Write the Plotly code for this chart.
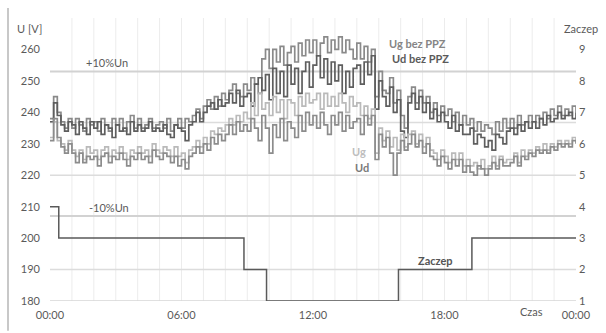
import plotly.graph_objects as go

# time in hours, 10-minute resolution
hours = [i / 6 for i in range(145)]

ug_bez = [
    238, 245, 240, 237, 235, 238,
    235, 238, 236, 234, 238, 236,
    237, 234, 238, 236, 234, 238,
    236, 238, 234, 237, 239, 235,
    238, 235, 236, 238, 235, 236,
    237, 235, 238, 234, 236, 238,
    235, 238, 237, 239, 241, 238,
    242, 244, 241, 245, 242, 246,
    244, 247, 249, 246, 245, 249,
    247, 251, 249, 246, 257, 260,
    254, 260, 256, 261, 255, 259,
    261, 256, 262, 258, 263, 259,
    263, 258, 262, 264, 259, 263,
    260, 264, 259, 263, 260, 257,
    262, 257, 261, 256, 260, 245,
    253, 247, 246, 251, 243, 247,
    239, 235, 245, 248, 243, 247,
    243, 245, 240, 243, 239, 242,
    239, 241, 237, 240, 236, 239,
    236, 238, 234, 237, 234, 236,
    235, 233, 237, 234, 238, 235,
    238, 235, 239, 236, 237, 239,
    237, 239, 238, 240, 238, 241,
    239, 242, 239, 241, 239, 242,
    240,
]

ud_bez = [
    237, 243, 239, 236, 234, 237,
    236, 233, 237, 235, 233, 237,
    235, 237, 233, 236, 235, 232,
    236, 234, 235, 233, 237, 234,
    236, 234, 235, 237, 234, 235,
    234, 236, 233, 232, 236, 235,
    234, 231, 236, 237, 240, 237,
    240, 242, 243, 241, 244, 242,
    243, 246, 243, 247, 242, 245,
    246, 242, 249, 251, 247, 252,
    244, 254, 246, 253, 245, 255,
    249, 254, 246, 253, 256, 248,
    255, 258, 251, 257, 249, 256,
    250, 255, 246, 253, 248, 254,
    255, 249, 256, 252, 258, 241,
    250, 245, 242, 248, 240, 244,
    234, 232, 243, 246, 241, 245,
    240, 243, 238, 241, 237, 240,
    237, 235, 239, 234, 236, 233,
    233, 235, 230, 233, 232, 229,
    231, 228, 233, 232, 230, 234,
    235, 233, 236, 234, 237, 235,
    237, 235, 238, 236, 239, 237,
    238, 240, 238, 239, 240, 238,
    240,
]

ug = [
    232, 237, 231, 230, 228, 231,
    228, 226, 228, 225, 229, 227,
    228, 225, 228, 229, 226, 228,
    227, 229, 227, 225, 228, 227,
    229, 227, 228, 226, 230, 228,
    227, 229, 228, 226, 229, 226,
    227, 224, 228, 229, 231, 229,
    232, 230, 234, 233, 235, 234,
    236, 238, 236, 239, 237, 240,
    238, 243, 239, 246, 241, 243,
    239, 245, 240, 244, 238, 244,
    243, 239, 245, 242, 246, 243,
    244, 246, 241, 246, 242, 245,
    242, 246, 243, 240, 245, 242,
    243, 239, 242, 238, 241, 227,
    235, 231, 234, 229, 232, 228,
    233, 229, 233, 234, 230, 233,
    229, 232, 228, 227, 225, 228,
    226, 224, 227, 225, 227, 223,
    225, 223, 224, 222, 225, 222,
    223, 226, 223, 226, 224, 225,
    225, 227, 224, 228, 226, 228,
    227, 229, 228, 230, 228, 230,
    229, 231, 230, 231, 230, 232,
    231,
]

ud = [
    231, 238, 232, 229, 227, 230,
    227, 224, 227, 224, 226, 225,
    226, 223, 226, 227, 224, 226,
    225, 227, 225, 223, 226, 225,
    227, 225, 226, 224, 228, 226,
    225, 227, 226, 224, 226, 223,
    225, 222, 226, 227, 229, 227,
    230, 228, 232, 230, 233, 231,
    233, 236, 233, 237, 234, 236,
    234, 238, 235, 231, 239, 235,
    227, 236, 232, 238, 231, 237,
    235, 232, 239, 234, 240, 236,
    239, 235, 240, 236, 233, 239,
    236, 240, 234, 239, 235, 237,
    238, 233, 239, 236, 239, 225,
    233, 229, 232, 227, 220, 227,
    231, 228, 230, 233, 229, 231,
    227, 230, 226, 225, 223, 226,
    224, 222, 225, 223, 225, 221,
    223, 221, 220, 223, 222, 220,
    222, 224, 222, 225, 223, 223,
    224, 226, 223, 226, 225, 227,
    226, 228, 227, 228, 227, 229,
    228, 230, 229, 230, 229, 231,
    230,
]

tap_times = [0, 0.4, 8.85, 9.88, 15.9, 19.25, 24]
tap_values = [4, 3, 2, 1, 2, 3, 3]

limit_levels = [253, 207]
limit_labels = ["+10%Un", "-10%Un"]
ref_levels = [236.8, 220, 190]

x_tickvals = [0, 6, 12, 18, 24]
x_ticktext = ["00:00", "06:00", "12:00", "18:00", "00:00"]
y_ticks = [180, 190, 200, 210, 220, 230, 240, 250, 260]
y2_ticks = [1, 2, 3, 4, 5, 6, 7, 8, 9]

FONT = "Lato"
TXT = "#5a5a5a"

fig = go.Figure()

# vertical hourly gridlines
for h in range(1, 24):
    fig.add_shape(type="line", xref="x", yref="paper", x0=h, x1=h, y0=0, y1=1,
                  line=dict(color="#ececec", width=1), layer="below")
for lv in ref_levels:
    fig.add_shape(type="line", xref="paper", yref="y", x0=0, x1=1, y0=lv, y1=lv,
                  line=dict(color="#dcdcdc", width=1.5), layer="below")
for lv in limit_levels:
    fig.add_shape(type="line", xref="paper", yref="y", x0=0, x1=1, y0=lv, y1=lv,
                  line=dict(color="#d2d2d2", width=2), layer="below")
fig.add_shape(type="line", xref="paper", yref="y", x0=0, x1=1, y0=180, y1=180,
              line=dict(color="#d6d6d6", width=1.5), layer="below")

series = [
    ("Ug bez PPZ", ug_bez, "#8a8a8a"),
    ("Ud bez PPZ", ud_bez, "#5e5e5e"),
    ("Ug", ug, "#bababa"),
    ("Ud", ud, "#8c8c8c"),
]
for name, vals, col in series:
    fig.add_trace(go.Scatter(x=hours, y=vals, mode="lines", name=name,
                             line=dict(color=col, width=1.7, shape="hv")))

fig.add_trace(go.Scatter(x=tap_times, y=tap_values, mode="lines", name="Zaczep",
                         yaxis="y2", line=dict(color="#5a5a5a", width=1.5, shape="hv")))

# left frame line
fig.add_shape(type="line", xref="paper", yref="paper", x0=-42 / 526, x1=-42 / 526,
              y0=-30 / 285, y1=295 / 285, line=dict(color="#c8c8c8", width=2))

anns = [
    dict(x=2.6, y=256, text=limit_labels[0], color=TXT, bold=False),
    dict(x=2.7, y=209.6, text=limit_labels[1], color=TXT, bold=False),
    dict(x=16.75, y=261.8, text="Ug bez PPZ", color="#858585", bold=True),
    dict(x=16.9, y=257.0, text="Ud bez PPZ", color="#5a5a5a", bold=True),
    dict(x=14.1, y=227.5, text="Ug", color="#bdbdbd", bold=True),
    dict(x=14.25, y=222.4, text="Ud", color="#7a7a7a", bold=True),
    dict(x=17.6, y=193.0, text="Zaczep", color="#555555", bold=True),
]
for a in anns:
    t = f"<b>{a['text']}</b>" if a["bold"] else a["text"]
    fig.add_annotation(x=a["x"], y=a["y"], xref="x", yref="y", text=t, showarrow=False,
                       font=dict(family=FONT, size=11, color=a["color"]))

fig.add_annotation(x=21.95, y=-19 / 285, xref="x", yref="paper", text="Czas", showarrow=False,
                   font=dict(family=FONT, size=11, color=TXT))
fig.add_annotation(x=-35 / 526, y=283 / 285, xref="paper", yref="paper", text="U [V]",
                   showarrow=False, xanchor="left",
                   font=dict(family=FONT, size=11, color=TXT))
fig.add_annotation(x=512 / 526, y=283 / 285, xref="paper", yref="paper", text="Zaczep",
                   showarrow=False, xanchor="left",
                   font=dict(family=FONT, size=11, color=TXT))

fig.update_layout(
    width=606, height=333,
    margin=dict(l=50, r=30, t=18, b=30),
    paper_bgcolor="white", plot_bgcolor="white",
    showlegend=False,
    font=dict(family=FONT, size=11, color=TXT),
    xaxis=dict(range=[0, 24], tickvals=x_tickvals, ticktext=x_ticktext, showgrid=False,
               zeroline=False, showline=False, ticks="", ticklabelstandoff=6),
    yaxis=dict(range=[180, 270], tickvals=y_ticks, showgrid=False, zeroline=False,
               showline=False, ticks="", ticklabelstandoff=9),
    yaxis2=dict(range=[1, 10], tickvals=y2_ticks, overlaying="y", side="right",
                showgrid=False, zeroline=False, showline=False, ticks="",
                ticklabelstandoff=2),
)

fig.write_html("out.html")
